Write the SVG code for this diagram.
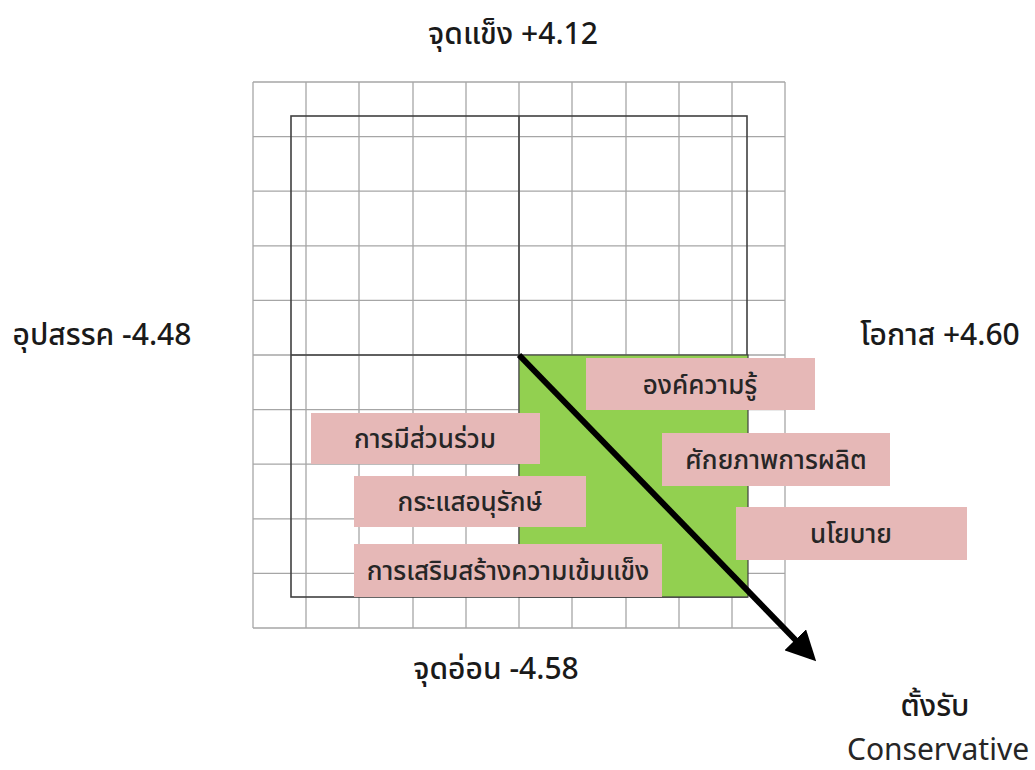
<svg xmlns="http://www.w3.org/2000/svg" width="1035" height="770" viewBox="0 0 1035 770">
<defs>
<style>
.grid line{stroke:#a6a6a6;stroke-width:1.3}
.frame{fill:none;stroke:#404040;stroke-width:1.6}
.box{fill:#e6b8b7}
.bt{font-family:"Noto Sans Thai","Leelawadee UI",Tahoma,"Noto Sans",sans-serif;font-size:26px;font-weight:500;fill:#262626;text-anchor:middle}
.lbl{font-family:"Noto Sans Thai",Tahoma,"Noto Sans",sans-serif;font-size:30px;font-weight:500;fill:#1a1a1a;text-anchor:middle}
.en{font-family:"Noto Sans","Open Sans",sans-serif;font-size:30px;font-weight:400;fill:#262626;text-anchor:middle}
</style>
<marker id="ah" viewBox="0 0 10 10" refX="8" refY="5" markerWidth="5" markerHeight="5" orient="auto" markerUnits="strokeWidth">
<path d="M0,0 L10,5 L0,10 z" fill="#000"/>
</marker>
</defs>
<rect width="1035" height="770" fill="#fff"/>
<g class="grid" id="grid">
<line x1="253" y1="82" x2="253" y2="628"/><line x1="306" y1="82" x2="306" y2="628"/><line x1="359" y1="82" x2="359" y2="628"/><line x1="413" y1="82" x2="413" y2="628"/><line x1="466" y1="82" x2="466" y2="628"/><line x1="519" y1="82" x2="519" y2="628"/><line x1="572" y1="82" x2="572" y2="628"/><line x1="626" y1="82" x2="626" y2="628"/><line x1="679" y1="82" x2="679" y2="628"/><line x1="732" y1="82" x2="732" y2="628"/><line x1="785" y1="82" x2="785" y2="628"/>
<line x1="253" y1="82" x2="785" y2="82"/><line x1="253" y1="136.6" x2="785" y2="136.6"/><line x1="253" y1="191.2" x2="785" y2="191.2"/><line x1="253" y1="245.8" x2="785" y2="245.8"/><line x1="253" y1="300.4" x2="785" y2="300.4"/><line x1="253" y1="355" x2="785" y2="355"/><line x1="253" y1="409.6" x2="785" y2="409.6"/><line x1="253" y1="464.2" x2="785" y2="464.2"/><line x1="253" y1="518.8" x2="785" y2="518.8"/><line x1="253" y1="573.4" x2="785" y2="573.4"/><line x1="253" y1="628" x2="785" y2="628"/>
</g>
<g id="frame">
<rect class="frame" x="291" y="116" width="456" height="481"/>
<line class="frame" x1="519" y1="116" x2="519" y2="355"/>
<line class="frame" x1="291" y1="355" x2="519" y2="355"/>
</g>
<g id="quadrant">
<rect x="519" y="355" width="229" height="242" fill="#92d050" stroke="#404040" stroke-width="1.2"/>
</g>
<g id="connectors">
<line x1="519" y1="355" x2="812" y2="657" stroke="#000" stroke-width="6" marker-end="url(#ah)"/>
</g>
<g id="n1"><rect class="box" x="586" y="358" width="229" height="52"/><text class="bt" x="700" y="394">องค์ความรู้</text></g>
<g id="n2"><rect class="box" x="662" y="433" width="228" height="53"/><text class="bt" x="776" y="469">ศักยภาพการผลิต</text></g>
<g id="n3"><rect class="box" x="736" y="507" width="231" height="53"/><text class="bt" x="851" y="543">นโยบาย</text></g>
<g id="n4"><rect class="box" x="311" y="413" width="229" height="51"/><text class="bt" x="425" y="448">การมีส่วนร่วม</text></g>
<g id="n5"><rect class="box" x="354" y="476" width="232" height="51"/><text class="bt" x="470" y="511">กระแสอนุรักษ์</text></g>
<g id="n6"><rect class="box" x="354" y="544" width="308" height="53"/><text class="bt" x="508" y="580">การเสริมสร้างความเข้มแข็ง</text></g>
<g id="labels">
<text class="lbl" x="513" y="44">จุดแข็ง +4.12</text>
<text class="lbl" x="102" y="345">อุปสรรค -4.48</text>
<text class="lbl" x="940" y="345">โอกาส +4.60</text>
<text class="lbl" x="496" y="679">จุดอ่อน -4.58</text>
<text class="lbl" x="935" y="716">ตั้งรับ</text>
<text class="en" x="938" y="760">Conservative</text>
</g>
</svg>
